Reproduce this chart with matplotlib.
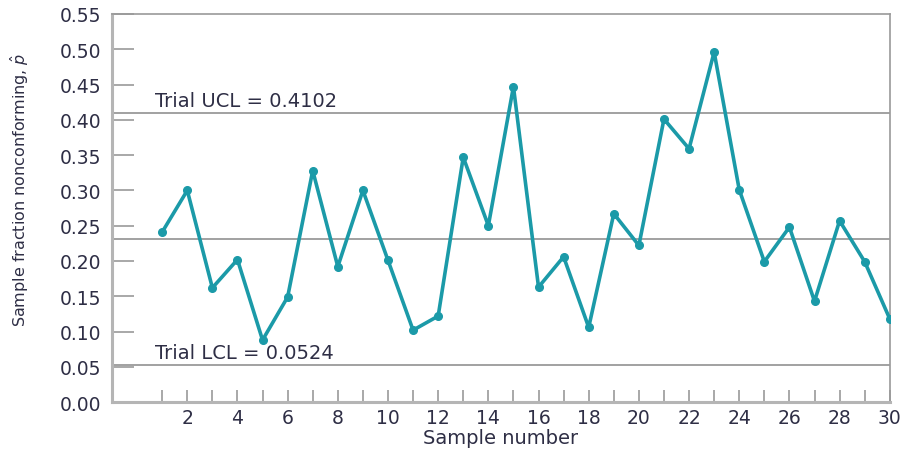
import matplotlib.pyplot as plt
from matplotlib.ticker import MultipleLocator

# fraction nonconforming per sample
samples = list(range(1, 31))
p_hat = [0.241, 0.300, 0.162, 0.202, 0.088, 0.149, 0.328, 0.192, 0.300, 0.201,
         0.102, 0.122, 0.347, 0.250, 0.447, 0.163, 0.206, 0.106, 0.267, 0.222,
         0.401, 0.359, 0.496, 0.301, 0.199, 0.248, 0.143, 0.257, 0.199, 0.118]

center = 0.2313
ucl = 0.4102
lcl = 0.0524

line_color = '#1b9aa8'
grey = '#9a9a9a'
text_color = '#2e2e45'

fig = plt.figure(figsize=(9.07, 4.52), dpi=100)
ax = fig.add_axes([0.1235, 0.108, 0.8575, 0.859])

for lvl in (center, ucl, lcl):
    ax.axhline(lvl, color=grey, lw=1.3, zorder=1)

ax.plot(samples, p_hat, color=line_color, lw=2.6, marker='o', ms=5.5, zorder=3)

ax.text(0.7, ucl + 0.004, 'Trial UCL = 0.4102', fontsize=14, color=text_color,
        va='bottom', ha='left')
ax.text(0.7, lcl + 0.004, 'Trial LCL = 0.0524', fontsize=14, color=text_color,
        va='bottom', ha='left')

ax.set_xlim(-1, 30)
ax.set_ylim(0, 0.55)

ax.set_xticks(range(2, 31, 2))
ax.set_xticks(range(1, 30, 2), minor=True)
ax.yaxis.set_major_locator(MultipleLocator(0.05))
ax.yaxis.set_major_formatter(plt.FormatStrFormatter('%.2f'))

ax.tick_params(axis='x', which='both', direction='in', length=9, width=1.2,
               color=grey, labelsize=13.5, labelcolor=text_color, pad=4)
ax.tick_params(axis='y', direction='in', length=16, width=1.2, color=grey,
               labelsize=13.5, labelcolor=text_color, pad=8)

for side in ('left', 'bottom'):
    ax.spines[side].set_color('#b5b5b5')
    ax.spines[side].set_linewidth(2.2)
for side in ('top', 'right'):
    ax.spines[side].set_color(grey)
    ax.spines[side].set_linewidth(1.2)

ax.set_xlabel('Sample number', fontsize=14, color=text_color, labelpad=1)
ax.set_ylabel(r'Sample fraction nonconforming, $\hat{p}$', fontsize=11.5,
              color=text_color)
ax.yaxis.set_label_coords(-0.104, 0.55)

fig.savefig('out.png', dpi=100)
